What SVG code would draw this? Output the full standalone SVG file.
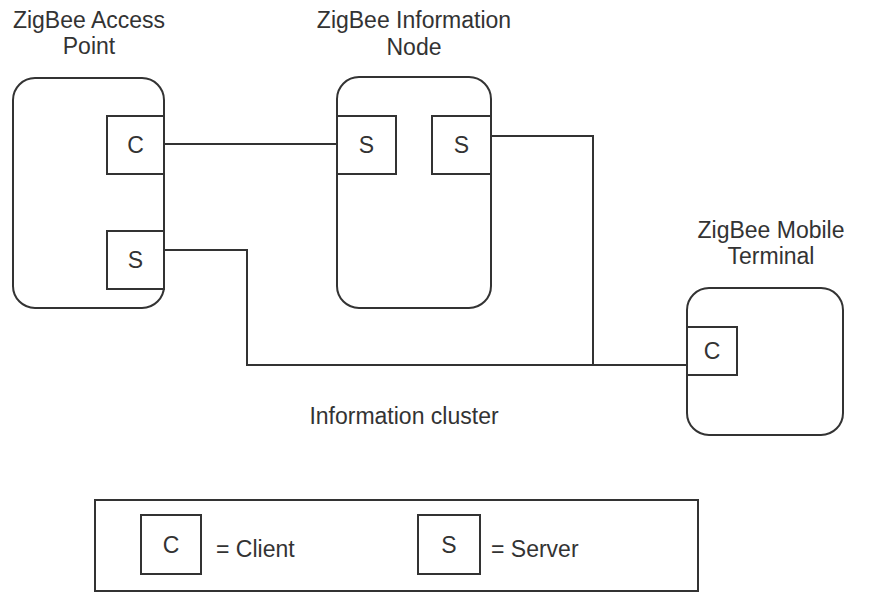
<svg xmlns="http://www.w3.org/2000/svg" width="871" height="593" viewBox="0 0 871 593">
<style>
.n{fill:#fff;stroke:#333;stroke-width:2}
.b{fill:#fff;stroke:#333;stroke-width:2}
.w{fill:none;stroke:#333;stroke-width:2}
text{font-family:"Liberation Sans",Arial,sans-serif;font-size:23px;fill:#333}
.c{text-anchor:middle}
</style>
<rect width="871" height="593" fill="#fff"/>
<g id="connectors">
<path class="w" d="M164 144H336"/>
<path class="w" d="M164 250H247V365H687"/>
<path class="w" d="M491 136H593V365"/>
</g>
<g id="access-point">
<rect class="n" x="13" y="78" width="151" height="230" rx="22"/>
<rect class="b" x="107" y="116" width="57" height="58"/>
<text class="c" x="135.5" y="153">C</text>
<rect class="b" x="107" y="231" width="57" height="58"/>
<text class="c" x="135.5" y="268">S</text>
<text class="c" x="89" y="28">ZigBee Access</text>
<text class="c" x="89" y="54">Point</text>
</g>
<g id="information-node">
<rect class="n" x="337" y="77" width="154" height="231" rx="22"/>
<rect class="b" x="337" y="116" width="59" height="58"/>
<text class="c" x="366.5" y="153">S</text>
<rect class="b" x="432" y="116" width="59" height="58"/>
<text class="c" x="461.5" y="153">S</text>
<text class="c" x="414" y="28">ZigBee Information</text>
<text class="c" x="414" y="55">Node</text>
</g>
<g id="mobile-terminal">
<rect class="n" x="687" y="288" width="156" height="147" rx="22"/>
<rect class="b" x="687" y="327" width="50" height="48"/>
<text class="c" x="712" y="359">C</text>
<text class="c" x="771" y="238">ZigBee Mobile</text>
<text class="c" x="771" y="264">Terminal</text>
</g>
<g id="cluster-label">
<text class="c" x="404" y="424">Information cluster</text>
</g>
<g id="legend">
<rect class="b" x="95" y="500" width="603" height="91"/>
<rect class="b" x="141" y="515" width="60" height="59"/>
<text class="c" x="171" y="553">C</text>
<text x="216" y="557">= Client</text>
<rect class="b" x="418" y="515" width="62" height="59"/>
<text class="c" x="449" y="553">S</text>
<text x="491" y="557">= Server</text>
</g>
</svg>
